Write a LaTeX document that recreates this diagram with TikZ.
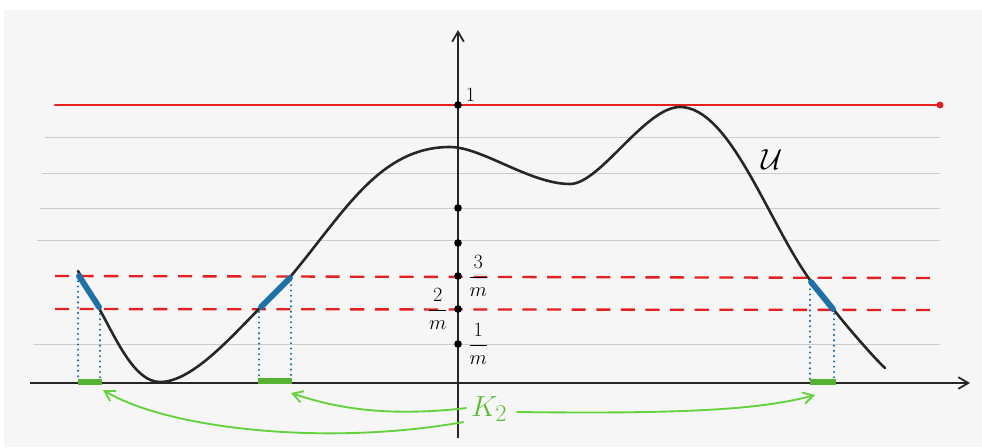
\documentclass[tikz,border=0pt]{standalone}
\usepackage{amsmath,amssymb}
\usepackage[dvipsnames]{xcolor}
\usetikzlibrary{arrows.meta,positioning,calc}
\definecolor{paper}{RGB}{246,246,246}
\definecolor{penred}{RGB}{228,32,32}
\definecolor{penblue}{RGB}{30,112,165}
\definecolor{pengreen}{RGB}{100,210,60}
\tikzset{
  axisline/.style={black!85, line width=1.5pt, -{Straight Barb[length=3mm,width=3.5mm]}},
  ruleline/.style={gray!40, line width=0.5pt},
  levelline/.style={penred, line width=2pt, line cap=round},
  leveldash/.style={penred, line width=2pt, dash pattern=on 12pt off 9pt},
  graphline/.style={black!85, line width=2.2pt, line cap=round, line join=round},
  preimage/.style={penblue, line width=5pt, line cap=round},
  dropline/.style={penblue, line width=2pt, line cap=round, dash pattern=on 0pt off 4.5pt},
  setmark/.style={pengreen!85!black, line width=5pt},
  pointer/.style={pengreen, line width=1.6pt, -{Straight Barb[length=3mm,width=3.5mm]}},
  tickdot/.style={circle, fill=black, inner sep=0pt, minimum size=6.5pt},
  ticklabel/.style={font=\LARGE, inner sep=3pt}
}

\begin{document}
\begin{tikzpicture}[x=0.03cm, y=-0.03cm]
  \useasboundingbox (0,0) rectangle (982,447);
  \fill[paper] (4,10) rectangle (982,447);

  % ruled lines of the sheet
  \foreach \yy/\xs in {137/45, 173/42, 208/40, 240/37, 344/33}
    \draw[ruleline] (\xs,\yy) -- (940,\yy);

  % axes
  \coordinate (xend) at (970,383);
  \coordinate (yend) at (458,30);
  \draw[axisline] (30,383) -- (xend);
  \draw[axisline] (458,438) -- (yend);

  % level lines
  \draw[levelline] (55,105) -- (940,105);
  \fill[penred] (940,105) circle (3.5);
  \draw[leveldash] (55,276) -- (940,278);
  \draw[leveldash] (55,309) -- (940,310);

  % ticks on the vertical axis
  \foreach \yy/\nm in {105/one, 208/t4, 243/t5, 276/t3, 309/t2, 344/t1}
    \node[tickdot] (\nm) at (458,\yy) {};
  \node[ticklabel, above right=-3pt and 1pt of one] (lone) {$1$};
  \node[ticklabel, right=2pt of t3] (lthree) {$\dfrac{3}{m}$};
  \node[ticklabel, left=2pt of t2] (ltwo) {$\dfrac{2}{m}$};
  \node[ticklabel, right=2pt of t1] (lone1) {$\dfrac{1}{m}$};

  % dotted drops to the axis
  \draw[dropline] (78,276) -- (78,381);
  \draw[dropline] (100,314) -- (100,381);
  \draw[dropline] (259,312) -- (259,381);
  \draw[dropline] (291,280) -- (291,381);
  \draw[dropline] (810,284) -- (810,381);
  \draw[dropline] (834,314) -- (834,381);

  % the graph of u
  \draw[graphline] (78,271) -- (100,310)
    .. controls (117,341) and (135,382) .. (160,382)
    .. controls (192,382) and (231,337) .. (259,309)
    -- (291,276)
    .. controls (345,211) and (380,147) .. (450,147)
    .. controls (482,147) and (530,184) .. (570,184)
    .. controls (600,184) and (645,107) .. (680,107)
    .. controls (730,107) and (768,222) .. (810,280)
    -- (834,310)
    .. controls (844,323) and (873,357) .. (885,368);
  \node[font=\fontsize{26}{28}\selectfont] (ulabel) at (772,160) {$\mathcal{U}$};

  % preimage pieces
  \draw[preimage] (79,276) -- (99,307);
  \draw[preimage] (261,307) -- (290,278);
  \draw[preimage] (811,282) -- (833,309);

  % the set K_2 on the axis
  \draw[setmark] (78,382) -- (102,382);
  \draw[setmark] (258,381) -- (292,381);
  \draw[setmark] (810,382) -- (836,382);
  \coordinate (kleft) at (103,390);
  \coordinate (kmid) at (291,393);
  \coordinate (kright) at (815,395);

  \node[text=pengreen!90!black, font=\fontsize{32}{34}\selectfont, inner sep=1pt] (ktwo) at (489,409) {$K_2$};
  \coordinate (kwa) at ($(ktwo.west)+(-3,-1)$);
  \coordinate (kwb) at ($(ktwo.west)+(-6,13)$);
  \coordinate (kea) at ($(ktwo.east)+(8,3)$);
  \draw[pointer] (kwa) .. controls (380,418) and (330,406) .. (kmid);
  \draw[pointer] (kwb) .. controls (330,446) and (170,430) .. (kleft);
  \draw[pointer] (kea) .. controls (680,414) and (760,410) .. (kright);
\end{tikzpicture}
\end{document}
